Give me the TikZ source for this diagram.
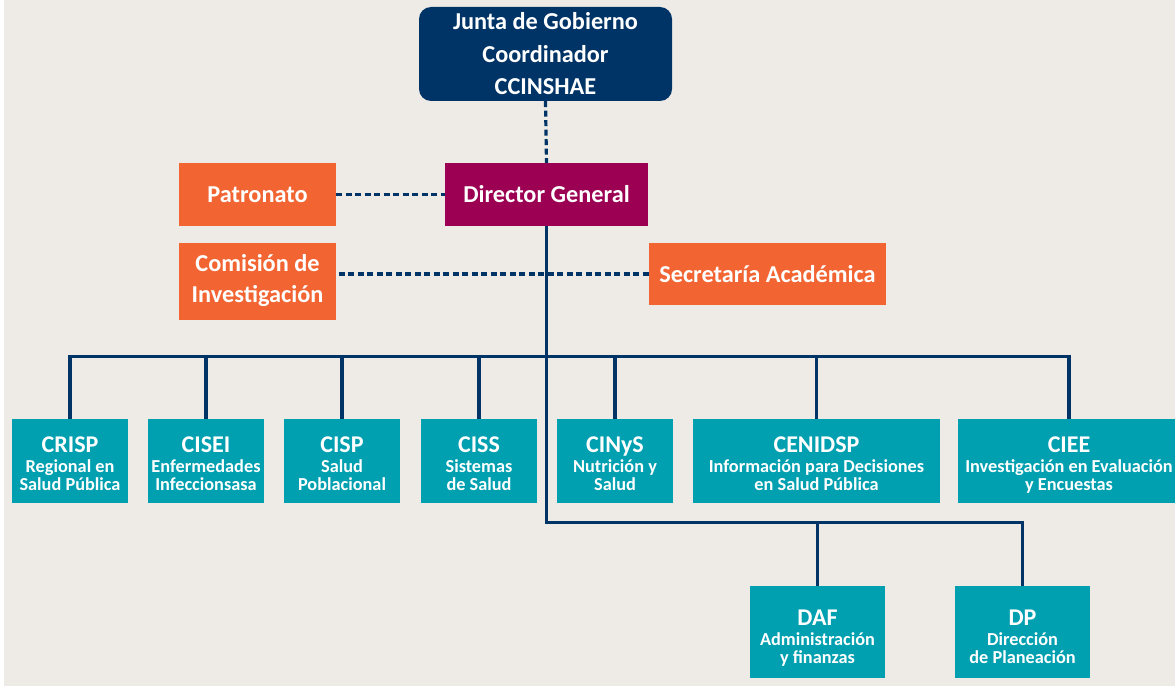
\documentclass[tikz,border=0pt]{standalone}
\usepackage{fontspec}
\setmainfont{Carlito}
\definecolor{bg}{RGB}{238,235,230}
\definecolor{navy}{RGB}{0,52,102}
\definecolor{teal}{RGB}{0,160,176}
\definecolor{orng}{RGB}{242,101,50}
\definecolor{mgnt}{RGB}{155,0,82}
\newcommand{\ttl}[1]{{\fontsize{24}{24}\selectfont\rule{0pt}{23pt}#1}\\[3pt]}
\newcommand{\ttlb}[1]{{\fontsize{24}{24}\selectfont\rule{0pt}{27pt}#1}\\[3pt]}
\newcommand{\lst}[1]{#1\vphantom{y}}
\newcommand{\tight}{\lineskip=0pt\lineskiplimit=-50pt}
\begin{document}
\begin{tikzpicture}[x=1pt,y=-1pt,
  box/.style={rectangle, inner sep=0pt, align=center, text=white, font=\bfseries\fontsize{24.3}{31}\selectfont\tight},
  tealbox/.style={box, fill=teal, minimum height=84, font=\bfseries\fontsize{18.3}{17.5}\selectfont\tight},
  orbox/.style={box, fill=orng},
  solidline/.style={navy, line width=3.5pt},
  dashline/.style={navy, line width=3.2pt, dash pattern=on 6pt off 3.5pt}]
\useasboundingbox (0,0) rectangle (1175,687);
\fill[white] (0,0) rectangle (1175,687);
\fill[bg] (4,0) rectangle (1175,686);
% top
\node[box, fill=navy, rounded corners=12pt, minimum width=253, minimum height=94, font=\bfseries\fontsize{24.3}{32.5}\selectfont\tight] (junta) at (545.5,54) {Junta de Gobierno\\Coordinador\\CCINSHAE};
\node[box, fill=mgnt, minimum width=203, minimum height=63] (dg) at (546.5,194.5) {Director General};
\node[orbox, minimum width=157, minimum height=63] (patr) at (257.5,194.5) {Patronato};
\node[orbox, minimum width=157, minimum height=77] (com) at (257.5,281) {Comisión de\\Investigación};
\node[orbox, minimum width=237, minimum height=62] (sec) at (767.5,274) {Secretaría Académica};
% row
\node[tealbox, minimum width=116] (crisp) at (70,461) {\ttl{CRISP}Regional en\\\lst{Salud Pública}};
\node[tealbox, minimum width=116] (cisei) at (206,461) {\ttl{CISEI}Enfermedades\\\lst{Infeccionsasa}};
\node[tealbox, minimum width=116] (cisp) at (342,461) {\ttl{CISP}Salud\\\lst{Poblacional}};
\node[tealbox, minimum width=116] (ciss) at (479,461) {\ttl{CISS}Sistemas\\\lst{de Salud}};
\node[tealbox, minimum width=116] (cinys) at (615,461) {\ttl{CINyS}Nutrición y\\\lst{Salud}};
\node[tealbox, minimum width=247] (cenidsp) at (816.5,461) {\ttl{CENIDSP}Información para Decisiones\\\lst{en Salud Pública}};
\node[tealbox, minimum width=222] (ciee) at (1069,461) {\ttl{CIEE}Investigación en Evaluación\\\lst{y Encuestas}};
\node[tealbox, minimum width=135, minimum height=92] (daf) at (817.5,632) {\ttlb{DAF}Administración\\\lst{y finanzas}};
\node[tealbox, minimum width=135, minimum height=92] (dp) at (1022.5,632) {\ttlb{DP}Dirección\\\lst{de Planeación}};
% connectors
\coordinate (bus) at (0,356.5);
\coordinate (low) at (546.5,522.5);
\draw[dashline] (junta.south) -- (dg.north);
\draw[dashline] (patr.east) -- (dg.west);
\draw[dashline] (sec.west) -- (sec.west -| com.east);
\draw[solidline] (dg.south) -- (low) -| (dp.north);
\draw[solidline] (daf.north) -- (daf.north |- low);
\draw[solidline] (crisp.north) -- (crisp.north |- bus) -- (ciee.north |- bus) -- (ciee.north);
\foreach \n in {cisei,cisp,ciss,cinys,cenidsp}
  \draw[solidline] (\n.north) -- (\n.north |- bus);
\end{tikzpicture}
\end{document}
